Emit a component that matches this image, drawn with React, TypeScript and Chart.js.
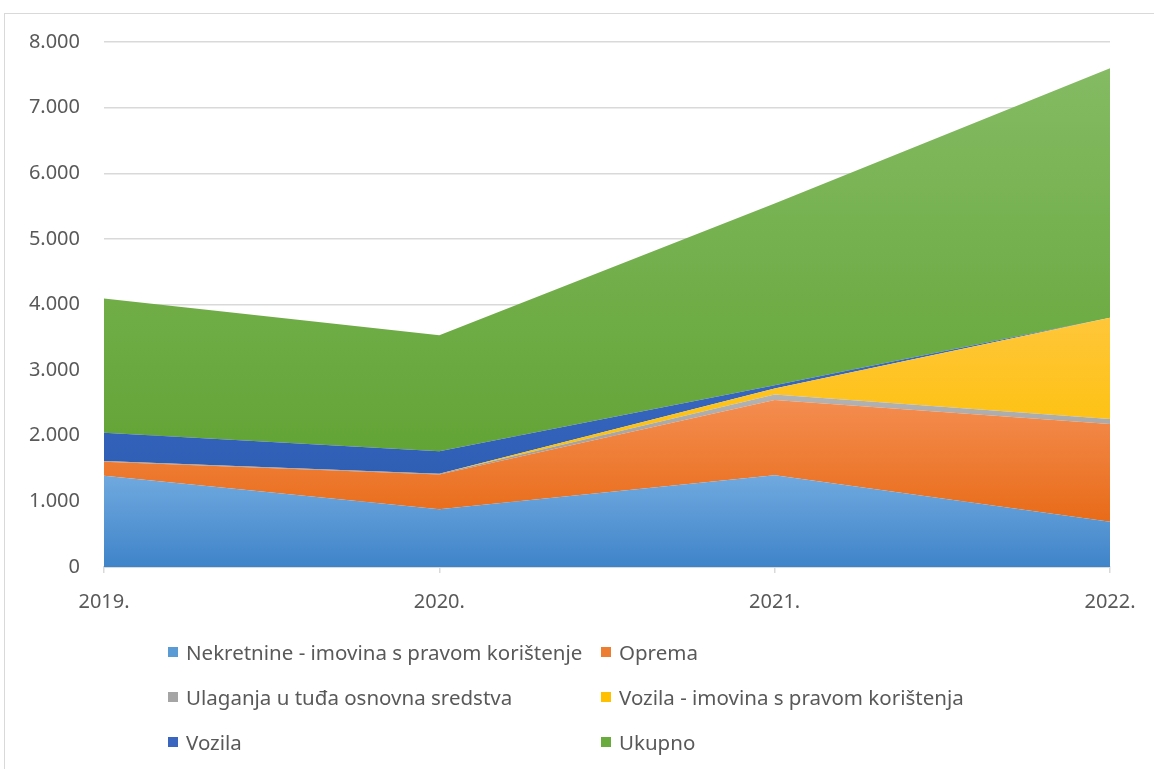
import React, { useEffect, useRef } from "react";
import { Chart, registerables } from "chart.js";

Chart.register(...registerables);

const categories = ["2019.", "2020.", "2021.", "2022."];
const nekretnine = [1390, 880, 1400, 690];
const oprema = [215, 530, 1145, 1490];
const ulaganja = [10, 10, 85, 75];
const vozilaImovina = [0, 0, 90, 1545];
const vozila = [430, 345, 50, 0];
const ukupno = [2045, 1765, 2770, 3800];
const yTicks = [0, 1000, 2000, 3000, 4000, 5000, 6000, 7000, 8000];

const seriesNames = [
  "Nekretnine - imovina s pravom korištenje",
  "Oprema",
  "Ulaganja u tuđa osnovna sredstva",
  "Vozila - imovina s pravom korištenja",
  "Vozila",
  "Ukupno",
];
const seriesData = [nekretnine, oprema, ulaganja, vozilaImovina, vozila, ukupno];
const solid = ["#5b9bd5", "#ed7d31", "#a5a5a5", "#ffc000", "#3a66bf", "#6aab3e"];
const light = ["#70a9df", "#f48d50", "#b3b3b3", "#ffc63a", "#3d6bc6", "#84bb63"];
const dark = ["#3f84c9", "#e86b18", "#9a9a9a", "#fdc000", "#2f5eb5", "#63a436"];

const fmt = (v: number) => String(v).replace(/\B(?=(\d{3})+(?!\d))/g, ".");

const FONT = "'Noto Sans', sans-serif";

export default function App() {
  const ref = useRef<HTMLCanvasElement | null>(null);

  useEffect(() => {
    if (!ref.current) return;
    const cum: number[][] = [];
    seriesData.forEach((arr, i) => {
      cum.push(arr.map((v, j) => v + (i > 0 ? cum[i - 1][j] : 0)));
    });
    const datasets = seriesData.map((arr, i) => ({
      label: seriesNames[i],
      data: arr,
      fill: i === 0 ? "origin" : "-1",
      borderWidth: 0,
      borderColor: solid[i],
      pointRadius: 0,
      tension: 0,
      backgroundColor: (ctx: any) => {
        const chart = ctx.chart;
        const area = chart.chartArea;
        if (!area || !chart.scales.y) return solid[i];
        const topVal = Math.max(...cum[i]);
        const baseVal = i === 0 ? 0 : Math.min(...cum[i - 1]);
        const y0 = chart.scales.y.getPixelForValue(topVal);
        const y1 = chart.scales.y.getPixelForValue(baseVal);
        const g = chart.ctx.createLinearGradient(0, y0, 0, y1);
        g.addColorStop(0, light[i]);
        g.addColorStop(1, dark[i]);
        return g;
      },
    }));
    const chart = new Chart(ref.current, {
      type: "line",
      data: { labels: categories, datasets: datasets as any },
      options: {
        animation: false,
        responsive: false,
        maintainAspectRatio: false,
        layout: { padding: { left: 0, right: 44, top: 42, bottom: 142 } },
        plugins: { legend: { display: false }, tooltip: { enabled: false } },
        elements: { line: { borderWidth: 0 } },
        scales: {
          x: {
            type: "category",
            offset: false,
            grid: {
              drawOnChartArea: false,
              drawTicks: true,
              tickLength: 6,
              color: "#d9d9d9",
              lineWidth: 1.5,
            },
            border: { display: true, color: "#d9d9d9", width: 2 },
            ticks: {
              color: "#595959",
              font: { family: FONT, size: 20 },
              padding: 17,
              maxRotation: 0,
            },
            afterFit: (s: any) => {
              s.height = 60;
            },
          },
          y: {
            stacked: true,
            min: 0,
            max: 8000,
            afterBuildTicks: (s: any) => {
              s.ticks = yTicks.map((v) => ({ value: v }));
            },
            grid: { color: "#d9d9d9", lineWidth: 1.5, drawTicks: false },
            border: { display: false },
            ticks: {
              color: "#595959",
              font: { family: FONT, size: 20 },
              padding: 24,
              callback: (v: any) => fmt(Number(v)),
            },
            afterFit: (s: any) => {
              s.width = 104;
            },
          },
        },
      },
    });
    return () => chart.destroy();
  }, []);

  const legendPos = [
    { x: 168, y: 652 },
    { x: 601, y: 652 },
    { x: 168, y: 697 },
    { x: 601, y: 697 },
    { x: 168, y: 742 },
    { x: 601, y: 742 },
  ];

  return (
    <div
      style={{
        position: "fixed",
        left: 0,
        top: 0,
        width: 1154,
        height: 769,
        background: "#ffffff",
        overflow: "hidden",
        fontFamily: FONT,
      }}
    >
      <div
        style={{
          position: "absolute",
          left: 4,
          top: 13,
          width: 1200,
          height: 800,
          border: "1px solid #d9d9d9",
        }}
      />
      <canvas
        ref={ref}
        width={1154}
        height={769}
        style={{ position: "absolute", left: 0, top: 0, width: 1154, height: 769 }}
      />
      {seriesNames.map((n, i) => (
        <div
          key={n}
          style={{
            position: "absolute",
            left: legendPos[i].x,
            top: legendPos[i].y - 14,
            height: 28,
            display: "flex",
            alignItems: "center",
            whiteSpace: "nowrap",
            color: "#595959",
            fontSize: 20.5,
          }}
        >
          <span
            style={{
              display: "inline-block",
              width: 10,
              height: 10,
              background: solid[i],
              marginRight: 8,
            }}
          />
          {n}
        </div>
      ))}
    </div>
  );
}
